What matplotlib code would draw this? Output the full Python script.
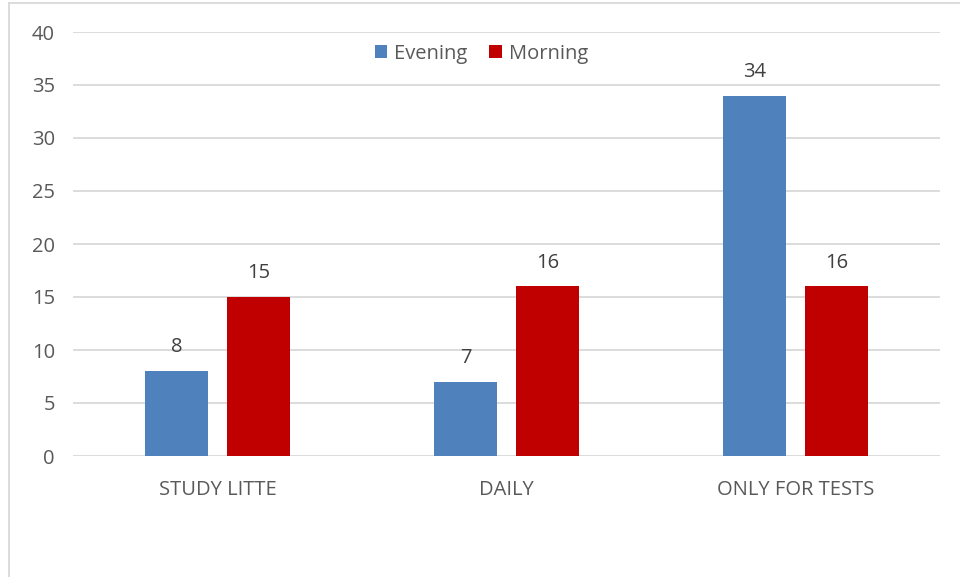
import matplotlib.pyplot as plt
import numpy as np

categories = ["STUDY LITTE", "DAILY", "ONLY FOR TESTS"]
evening = [8, 7, 34]
morning = [15, 16, 16]

plt.rcParams['font.family'] = ['Open Sans', 'DejaVu Sans']
fs = 14.5

fig = plt.figure(figsize=(9.6, 5.77), dpi=100)
ax = fig.add_axes([73 / 960, 1 - 456 / 577, (940 - 73) / 960, (456 - 32) / 577])

x = np.arange(len(categories))
w = 0.221
off = 0.142
b1 = ax.bar(x - off, evening, w, color="#4F81BD", label="Evening", zorder=3)
b2 = ax.bar(x + off, morning, w, color="#C00000", label="Morning", zorder=3)

for bars, vals in ((b1, evening), (b2, morning)):
    for rect, v in zip(bars, vals):
        ax.text(rect.get_x() + rect.get_width() / 2, v + 1.3, str(v),
                ha="center", va="bottom", fontsize=fs, color="#404040")

ax.set_xlim(-0.5, 2.5)
ax.set_ylim(0, 40)
ax.set_yticks(range(0, 41, 5))
ax.set_xticks(x)
ax.set_xticklabels(categories)
ax.tick_params(axis="both", length=0, labelsize=fs, labelcolor="#595959")
ax.tick_params(axis="y", pad=13)
ax.tick_params(axis="x", pad=17)
ax.grid(axis="y", color="#D9D9D9", linewidth=1.3, zorder=0)
for s in ax.spines.values():
    s.set_visible(False)

ax.legend(loc="upper center", bbox_to_anchor=(0.471, 1.015), ncol=2, frameon=False,
          fontsize=fs, labelcolor="#595959", handlelength=0.6, handleheight=0.6,
          handletextpad=0.35, columnspacing=1.1)

# chart frame edges
fig.add_artist(plt.Line2D([9 / 960, 9 / 960], [0, 1 - 3 / 577], color="#D9D9D9", lw=1.3))
fig.add_artist(plt.Line2D([9 / 960, 1], [1 - 3 / 577, 1 - 3 / 577], color="#D9D9D9", lw=1.3))

fig.savefig("out.png", dpi=100)
